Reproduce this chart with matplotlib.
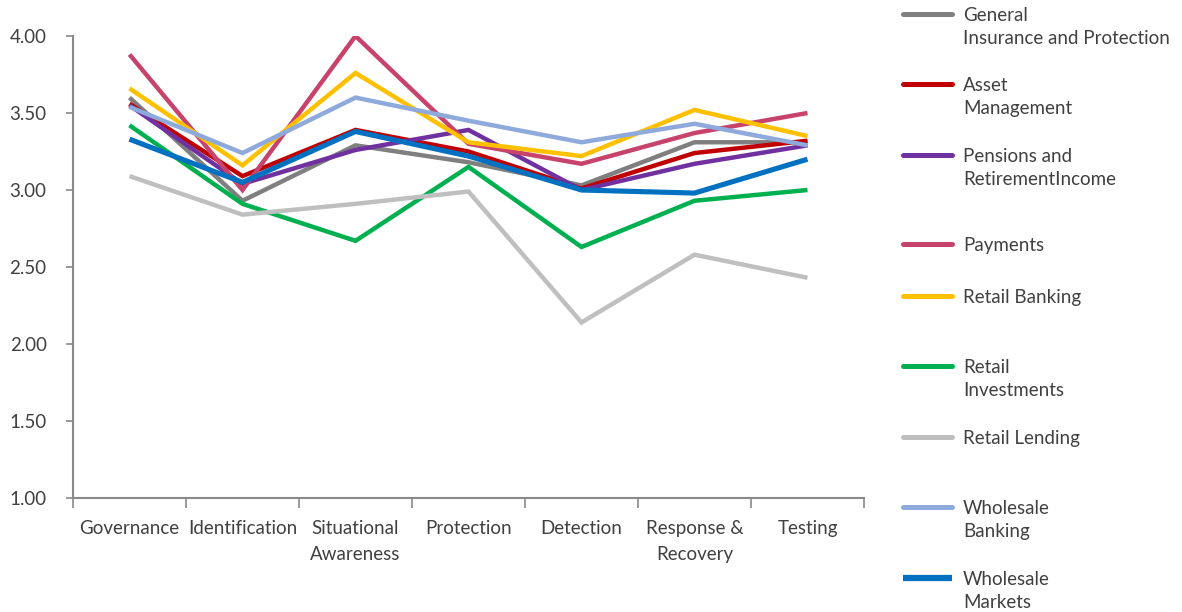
import matplotlib
matplotlib.use("Agg")
import matplotlib.pyplot as plt
from matplotlib.lines import Line2D

plt.rcParams['font.family'] = ['Lato', 'DejaVu Sans']

categories = ["Governance", "Identification", "Situational\nAwareness", "Protection",
              "Detection", "Response &\nRecovery", "Testing"]

series_names = ["General\nInsurance and Protection", "Asset\nManagement",
                "Pensions and\nRetirementIncome", "Payments", "Retail Banking",
                "Retail\nInvestments", "Retail Lending", "Wholesale\nBanking",
                "Wholesale\nMarkets"]

general_insurance = [3.60, 2.93, 3.29, 3.18, 3.03, 3.31, 3.31]
asset_management = [3.56, 3.09, 3.39, 3.25, 3.01, 3.24, 3.32]
pensions = [3.55, 3.04, 3.26, 3.39, 3.00, 3.17, 3.29]
payments = [3.88, 3.00, 4.00, 3.30, 3.17, 3.37, 3.50]
retail_banking = [3.66, 3.16, 3.76, 3.31, 3.22, 3.52, 3.35]
retail_investments = [3.42, 2.91, 2.67, 3.15, 2.63, 2.93, 3.00]
retail_lending = [3.09, 2.84, 2.91, 2.99, 2.14, 2.58, 2.43]
wholesale_banking = [3.54, 3.24, 3.60, 3.45, 3.31, 3.43, 3.29]
wholesale_markets = [3.33, 3.05, 3.38, 3.22, 3.00, 2.98, 3.20]

series_values = [general_insurance, asset_management, pensions, payments, retail_banking,
                 retail_investments, retail_lending, wholesale_banking, wholesale_markets]
colors = ["#7F7F7F", "#C00000", "#7030A0", "#C8436B", "#FFC000",
          "#00B050", "#BFBFBF", "#8EA9DB", "#0070C0"]
widths = [3.2, 3.2, 3.2, 3.2, 3.2, 3.2, 3.2, 3.2, 3.7]

yticks = [1.00, 1.50, 2.00, 2.50, 3.00, 3.50, 4.00]

W, H = 1182, 612
FS = 13.5
TXT = '#404040'
fig = plt.figure(figsize=(W / 100, H / 100), dpi=100)
ax = fig.add_axes([73 / W, 1 - 498 / H, (864 - 73) / W, (498 - 36) / H])

x = list(range(len(categories)))
for vals, col, lw in zip(series_values, colors, widths):
    ax.plot(x, vals, color=col, lw=lw, solid_joinstyle='miter', solid_capstyle='butt')

ax.set_xlim(-0.5, len(categories) - 0.5)
ax.set_ylim(1.0, 4.0)
ax.set_yticks(yticks)
ax.set_yticklabels([f"{v:.2f}" for v in yticks])

ax.set_xticks([i - 0.5 for i in range(len(categories) + 1)])
ax.set_xticklabels([])
ax.set_xticks(x, minor=True)
ax.set_xticklabels(categories, minor=True)
ax.tick_params(axis='x', which='minor', length=0, pad=16, labelsize=FS, colors=TXT)
ax.tick_params(axis='x', which='major', length=7, width=1.2, color='#898989')
ax.tick_params(axis='y', length=5, width=1.2, color='#898989', labelsize=FS,
               labelcolor=TXT, pad=14)
for lbl in ax.get_xticklabels(minor=True):
    lbl.set_linespacing(1.6)
    lbl.set_verticalalignment('top')

for s in ['top', 'right']:
    ax.spines[s].set_visible(False)
for s in ['left', 'bottom']:
    ax.spines[s].set_color('#898989')
    ax.spines[s].set_linewidth(1.5)

# legend drawn by hand on the right
legend_y = [14, 84, 155, 244, 296, 366, 437, 507, 578]
for name, col, ypix in zip(series_names, colors, legend_y):
    yf = 1 - ypix / H
    square = name.startswith("Wholesale\nMarkets")
    fig.add_artist(Line2D([903 / W, 952 / W], [yf, yf], color=col,
                          lw=4.5 if square else 3.6,
                          solid_capstyle='butt' if square else 'round',
                          transform=fig.transFigure))
    fig.text(963 / W, 1 - (ypix - 7) / H, name, fontsize=FS, color=TXT,
             va='top', ha='left', linespacing=1.45)

fig.savefig("out.png", dpi=100)
